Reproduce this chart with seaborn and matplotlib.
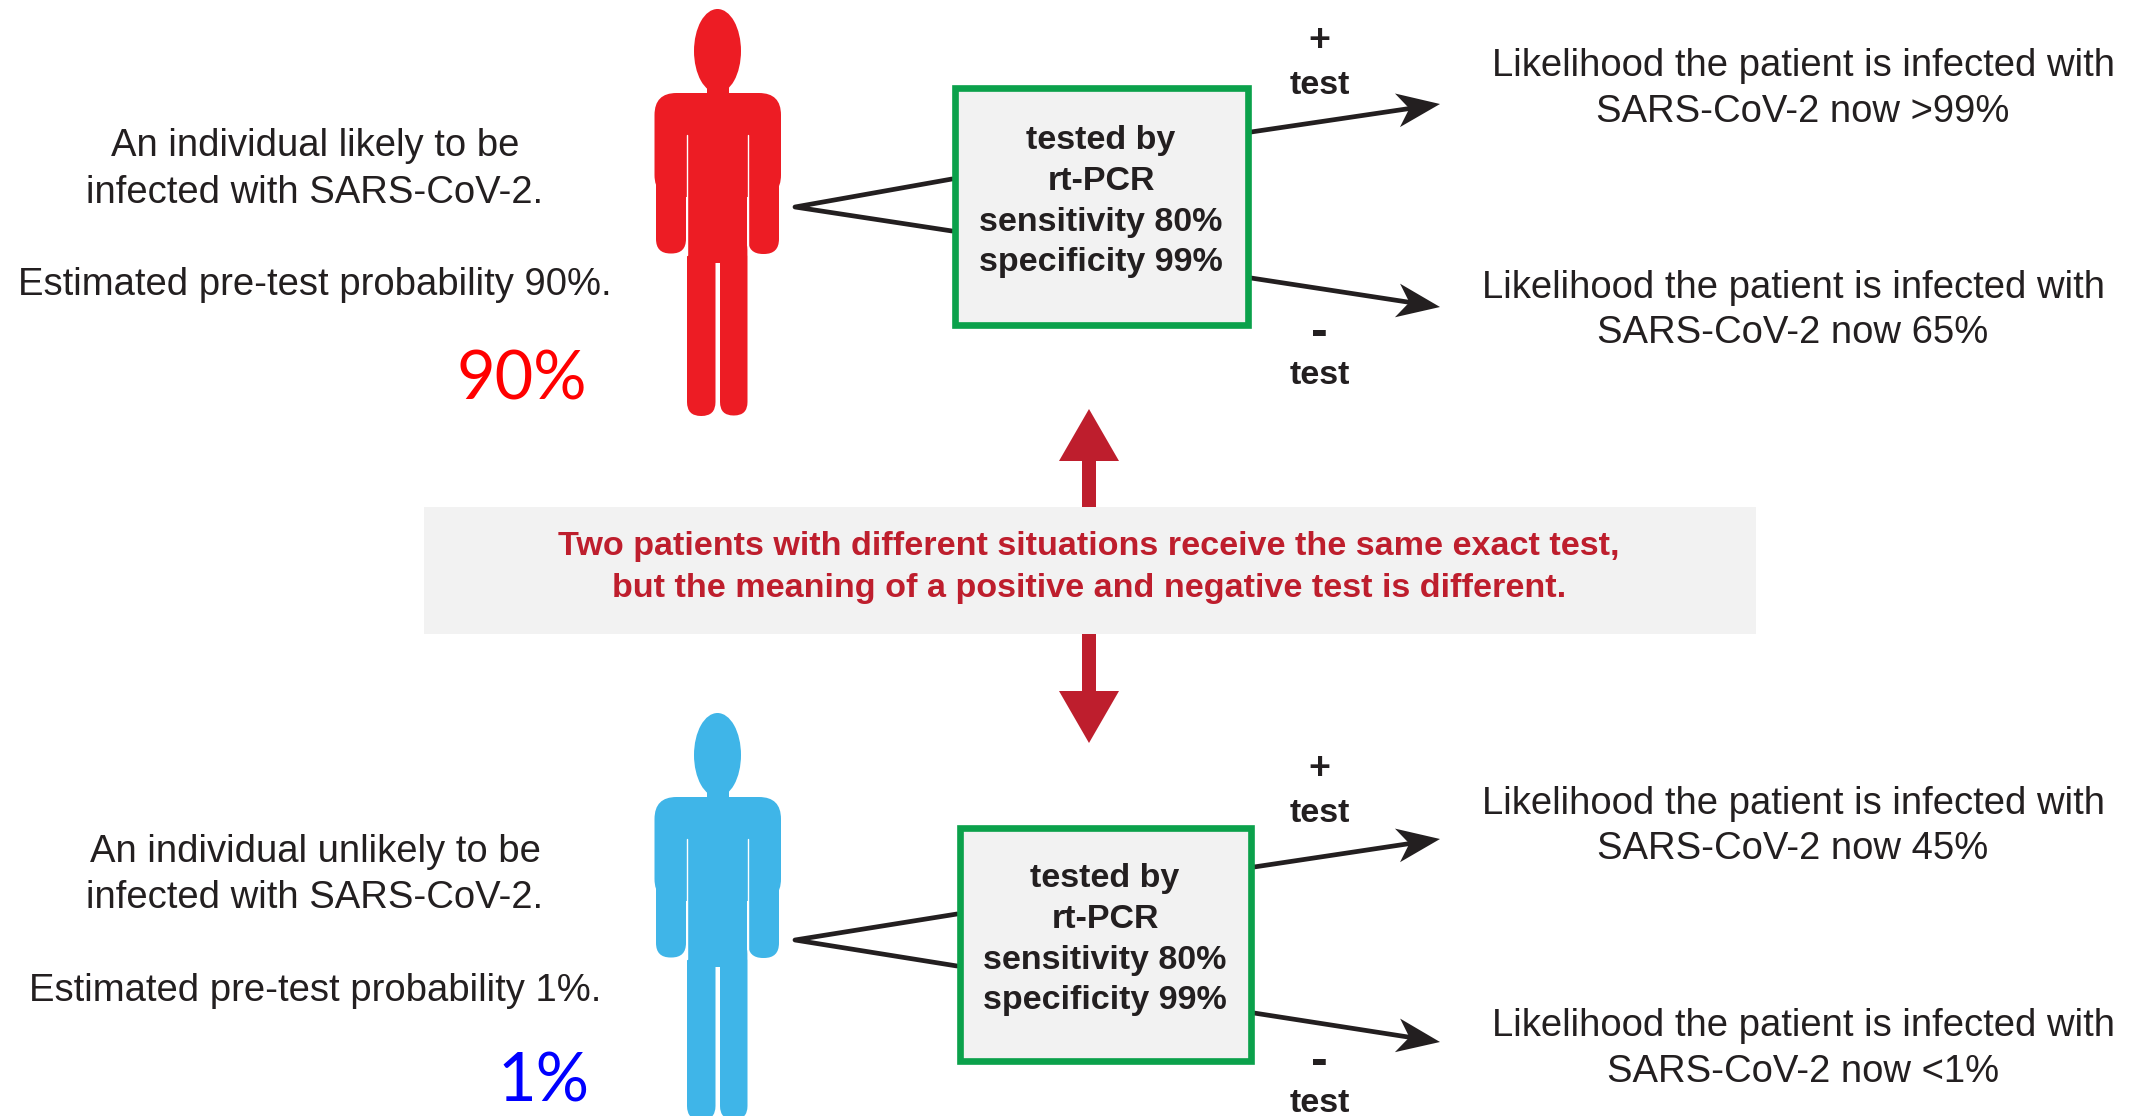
import numpy as np
import pandas as pd
import matplotlib
matplotlib.use("Agg")
import matplotlib.pyplot as plt
from matplotlib.patches import Ellipse, Rectangle, FancyBboxPatch, Polygon
import seaborn as sns

# ---- chart content ----
patient_labels = ["An individual likely to be", "An individual unlikely to be"]
pretest_pct = [90, 1]
sensitivity_pct = 80
specificity_pct = 99
positive_results = [">99%", "45%"]
negative_results = ["65%", "<1%"]
center_message = ["Two patients with different situations receive the same exact test,",
                  "but the meaning of a positive and negative test is different."]

sns.set_theme(style="white")
plt.rcParams["font.family"] = ["Liberation Sans", "DejaVu Sans"]

INK = "#231f20"
RED = "#ed1c24"
BLUE = "#3fb5e8"
DARKRED = "#be1e2d"
GREEN = "#0ba14b"
GREY = "#f2f2f2"

fig = plt.figure(figsize=(21.39, 11.16), dpi=100)
ax = fig.add_axes([0, 0, 1, 1])
ax.set_xlim(0, 2139)
ax.set_ylim(1116, 0)
ax.axis("off")


def person(dy, color):
    parts = [
        Ellipse((717.5, 51 + dy), 47, 84),
        Rectangle((707, 80 + dy), 22, 20),
        FancyBboxPatch((654.5 + 22, 93 + dy + 22), 126.5 - 44, 60, boxstyle="round,pad=22,rounding_size=22"),
        Rectangle((654.5, 125 + dy), 126.5, 35),
        Rectangle((687, 110 + dy), 60, 153),
        FancyBboxPatch((656 + 14.5, 140 + dy), 1, 99, boxstyle="round,pad=14.5,rounding_size=14.5"),
        FancyBboxPatch((748 + 15, 140 + dy), 1, 99, boxstyle="round,pad=15,rounding_size=15"),
        FancyBboxPatch((687 + 14, 250 + dy), 0.5, 152, boxstyle="round,pad=14,rounding_size=14"),
        FancyBboxPatch((720 + 13.5, 250 + dy), 0.5, 152, boxstyle="round,pad=13.5,rounding_size=13.5"),
    ]
    for p in parts:
        p.set(facecolor=color, edgecolor="none", zorder=2)
        ax.add_patch(p)
    for x in (686.5, 747.5):
        ax.plot([x, x], [135 + dy, 255 + dy], color="white", lw=1.0, zorder=3)


def connector(apex, x_end, y_up, y_down):
    df = pd.DataFrame({"x": [x_end, apex[0], x_end], "y": [y_up, apex[1], y_down], "o": [0, 1, 2]})
    sns.lineplot(data=df, x="x", y="y", sort=False, estimator=None, color=INK, lw=3.4, ax=ax, zorder=4, legend=False)


def arrow(x0, y0, x1, y1):
    d = np.array([x1 - x0, y1 - y0], float)
    d /= np.hypot(*d)
    n = np.array([-d[1], d[0]])
    tip = np.array([x1, y1], float)
    sns.lineplot(x=[x0, x1 - 30 * d[0]], y=[y0, y1 - 30 * d[1]], color=INK, lw=3.4, ax=ax, zorder=4,
                 sort=False, estimator=None, legend=False)
    ax.add_patch(Polygon([tip, tip - 43 * d + 17 * n, tip - 31 * d, tip - 43 * d - 17 * n],
                         closed=True, facecolor=INK, edgecolor="none", zorder=5))


def box(x0, y0, x1, y1, cx, ys):
    ax.add_patch(Rectangle((x0 + 3, y0 + 3), x1 - x0 - 6, y1 - y0 - 6, facecolor=GREY, edgecolor=GREEN, lw=4.8, zorder=6))
    lines = ["tested by", "rt-PCR", f"sensitivity {sensitivity_pct}%", f"specificity {specificity_pct}%"]
    for s, y in zip(lines, ys):
        ax.text(cx, y + 4, s, ha="center", va="center", fontsize=24.5, fontweight="bold", color=INK, zorder=7)


def t(x, y, s, **kw):
    kw.setdefault("fontsize", 27.5)
    kw.setdefault("color", INK)
    ax.text(x, y + 3, s, ha="center", va="center", **kw)


# central band and arrows
ax.add_patch(Rectangle((424, 507), 1332, 127, facecolor=GREY, edgecolor="none", zorder=1))
ax.add_patch(Rectangle((1082, 455), 14, 52, facecolor=DARKRED, edgecolor="none", zorder=2))
ax.add_patch(Polygon([(1089, 409), (1059, 461), (1119, 461)], closed=True, facecolor=DARKRED, edgecolor="none", zorder=2))
ax.add_patch(Rectangle((1082, 634), 14, 60, facecolor=DARKRED, edgecolor="none", zorder=2))
ax.add_patch(Polygon([(1089, 743), (1059, 691), (1119, 691)], closed=True, facecolor=DARKRED, edgecolor="none", zorder=2))
for y, s in zip((544, 586), center_message):
    t(1089, y, s, fontsize=24.6, fontweight="bold", color=DARKRED)

# patients
person(0, RED)
person(704, BLUE)
connector((795, 207), 952, 179, 231)
connector((795, 940), 957, 914, 966)
box(952, 85, 1251, 328, 1101, (136, 177, 218, 259))
box(957, 825, 1254, 1064, 1105, (874, 915, 956, 997))
arrow(1251, 132, 1440, 104)
arrow(1251, 278, 1440, 307)
arrow(1254, 867, 1440, 839)
arrow(1254, 1013, 1440, 1042)

# left-hand text
t(315, 143, patient_labels[0])
t(315, 190, "infected with SARS-CoV-2.")
t(315, 282, f"Estimated pre-test probability {pretest_pct[0]}%.")
t(315, 849, patient_labels[1])
t(315, 895, "infected with SARS-CoV-2.")
t(315, 988, f"Estimated pre-test probability {pretest_pct[1]}%.")
t(522, 377, f"{pretest_pct[0]}%", fontsize=48, color="#ff0000", family="Lato")
t(543, 1079, f"{pretest_pct[1]}%", fontsize=48, color="#0000ff", family="Lato")

# test signs
for y_sign, y_test, sign in ((38, 82, "+"), (330, 373, "-"), (766, 811, "+"), (1059, 1101, "-")):
    t(1319, y_sign, sign, fontsize=36 if sign == "-" else 27, fontweight="bold")
    t(1320, y_test, "test", fontsize=24.5, fontweight="bold")

# right-hand text
L1 = "Likelihood the patient is infected with"
L2 = "SARS-CoV-2 now "
t(1803, 63, L1)
t(1803, 109, L2 + positive_results[0])
t(1793, 285, L1)
t(1793, 330, L2 + negative_results[0])
t(1793, 801, L1)
t(1793, 846, L2 + positive_results[1])
t(1803, 1023, L1)
t(1803, 1069, L2 + negative_results[1])

fig.savefig("out.png", dpi=100, facecolor="white")
